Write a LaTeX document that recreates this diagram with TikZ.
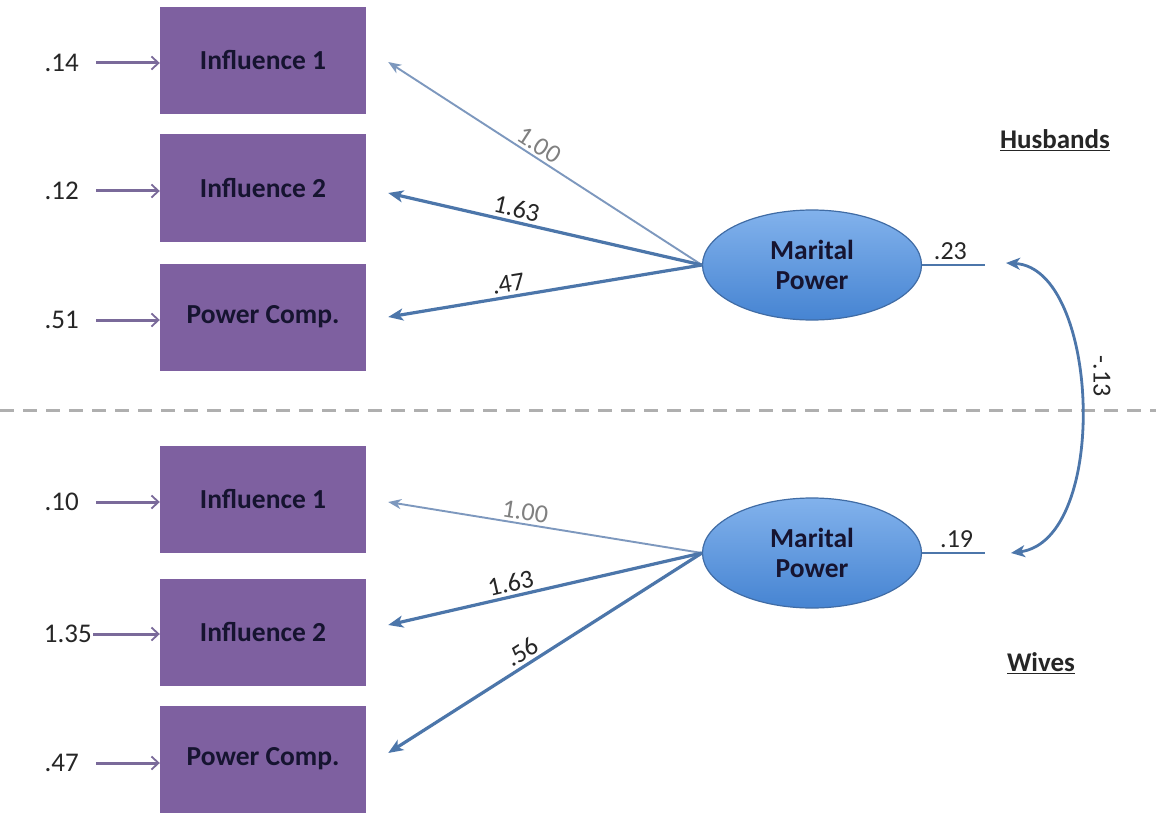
\documentclass[tikz,border=0pt]{standalone}
\usepackage{fontspec}
\setmainfont{Carlito}
\usetikzlibrary{shapes.geometric,arrows.meta}
\definecolor{boxfill}{RGB}{126,96,160}
\definecolor{boxtext}{RGB}{22,20,48}
\definecolor{loadcol}{RGB}{76,118,170}
\definecolor{lightload}{RGB}{125,152,190}
\definecolor{errcol}{RGB}{122,106,154}
\definecolor{elltop}{RGB}{130,178,236}
\definecolor{ellbot}{RGB}{70,132,210}
\definecolor{ellborder}{RGB}{64,108,165}
\definecolor{dashcol}{RGB}{175,175,175}
\tikzset{
  obsbox/.style={rectangle, fill=boxfill, minimum width=206pt, minimum height=107pt, inner sep=0pt,
    text=boxtext, font=\fontsize{27.5}{30}\selectfont\bfseries},
  latent/.style={ellipse, top color=elltop, bottom color=ellbot, draw=ellborder, line width=1.2pt,
    minimum width=219pt, minimum height=110pt, inner sep=0pt, align=center,
    text=boxtext, font=\fontsize{27.5}{30}\selectfont\bfseries},
  errlab/.style={anchor=east, inner sep=0pt, font=\fontsize{27}{30}\selectfont, text=black!85},
  errarrow/.style={draw=errcol, line width=3pt, -{Straight Barb[length=7pt,width=13pt,line width=1.8pt]}},
  loadarrow/.style={draw=loadcol, line width=3.2pt, -{Stealth[length=15pt,width=12pt,inset=4pt]}},
  fixarrow/.style={draw=lightload, line width=1.9pt, -{Stealth[length=13pt,width=10pt,inset=4pt]}},
  loadlab/.style={sloped, above, inner sep=3pt, font=\fontsize{26}{28}\selectfont, text=black!85},
  fixlab/.style={sloped, above, inner sep=3pt, font=\fontsize{26}{28}\selectfont, text=black!50},
  grouplab/.style={inner sep=0pt, font=\fontsize{27}{30}\selectfont\bfseries, text=black!85},
  distlab/.style={above, inner sep=4pt, font=\fontsize{26}{28}\selectfont, text=black!85},
}
\begin{document}
\begin{tikzpicture}[x=1pt,y=-1pt]
\useasboundingbox (0,0) rectangle (1156,813);
\fill[white] (0,0) rectangle (1156,813);

% separator
\draw[dashcol, line width=3pt, dash pattern=on 14pt off 9pt] (0,410) -- (1156,410);

% observed boxes
\node[obsbox] (b1) at (263,60.5) {Influence 1};
\node[obsbox] (b2) at (263,188) {Influence 2};
\node[obsbox] (b3) at (263,317) {Power Comp.};
\node[obsbox] (b4) at (263,499.5) {Influence 1};
\node[obsbox] (b5) at (263,632.5) {Influence 2};
\node[obsbox] (b6) at (263,759) {Power Comp.};

% error labels and arrows
\node[errlab] (e1) at (79,63) {.14};
\node[errlab] (e2) at (79,191) {.12};
\node[errlab] (e3) at (79,320) {.51};
\node[errlab] (e4) at (79,502) {.10};
\node[errlab] (e5) at (92,634) {1.35};
\node[errlab] (e6) at (79,763) {.47};
\draw[errarrow] ([xshift=17pt]e1.east) -- (b1.west |- e1.east);
\draw[errarrow] ([xshift=17pt]e2.east) -- (b2.west |- e2.east);
\draw[errarrow] ([xshift=17pt]e3.east) -- (b3.west |- e3.east);
\draw[errarrow] ([xshift=17pt]e4.east) -- (b4.west |- e4.east);
\draw[errarrow] ([xshift=1pt]e5.east) -- (b5.west |- e5.east);
\draw[errarrow] ([xshift=17pt]e6.east) -- (b6.west |- e6.east);

% latent variables
\node[latent] (hm) at (812,265) {Marital\\Power};
\node[latent] (wm) at (812,553) {Marital\\Power};

% husbands loadings
\draw[fixarrow] (hm.west) -- node[fixlab, pos=0.54] {1.00} ([xshift=22pt,yshift=-1.5pt]b1.east);
\draw[loadarrow] (hm.west) -- node[loadlab, pos=0.6] {1.63} ([xshift=22pt,yshift=-5pt]b2.east);
\draw[loadarrow] (hm.west) -- node[loadlab, pos=0.61] {.47} ([xshift=22pt,yshift=0pt]b3.east);

% wives loadings
\draw[fixarrow] (wm.west) -- node[fixlab, pos=0.57] {1.00} ([xshift=22pt,yshift=-2.5pt]b4.east);
\draw[loadarrow] (wm.west) -- node[loadlab, pos=0.6] {1.63} ([xshift=22pt,yshift=7.5pt]b5.east);
\draw[loadarrow] (wm.west) -- node[loadlab, pos=0.55] {.56} ([xshift=22pt,yshift=6pt]b6.east);

% disturbances
\coordinate (hd) at (985,265);
\coordinate (wd) at (985,553);
\draw[loadcol, line width=2.8pt] (hm.east) -- node[distlab, pos=0.45] {.23} (hd);
\draw[loadcol, line width=2.8pt] (wm.east) -- node[distlab, pos=0.55] {.19} (wd);

% covariance
\coordinate (hc) at (1006,263);
\coordinate (wc) at (1011,553);
\draw[loadcol, line width=2.8pt, {Stealth[length=14pt,width=12pt,inset=4pt]}-{Stealth[length=14pt,width=12pt,inset=4pt]}]
  (hc) .. controls (1100,268) and (1110,540) .. (wc);
\node[rotate=-90, inner sep=0pt, font=\fontsize{26}{28}\selectfont, text=black!85] (cov) at (1102,376) {-.13};

% group labels
\node[grouplab] (hus) at (1055,140) {\underline{Husbands}};
\node[grouplab] (wiv) at (1041,663) {\underline{Wives}};
\end{tikzpicture}
\end{document}
